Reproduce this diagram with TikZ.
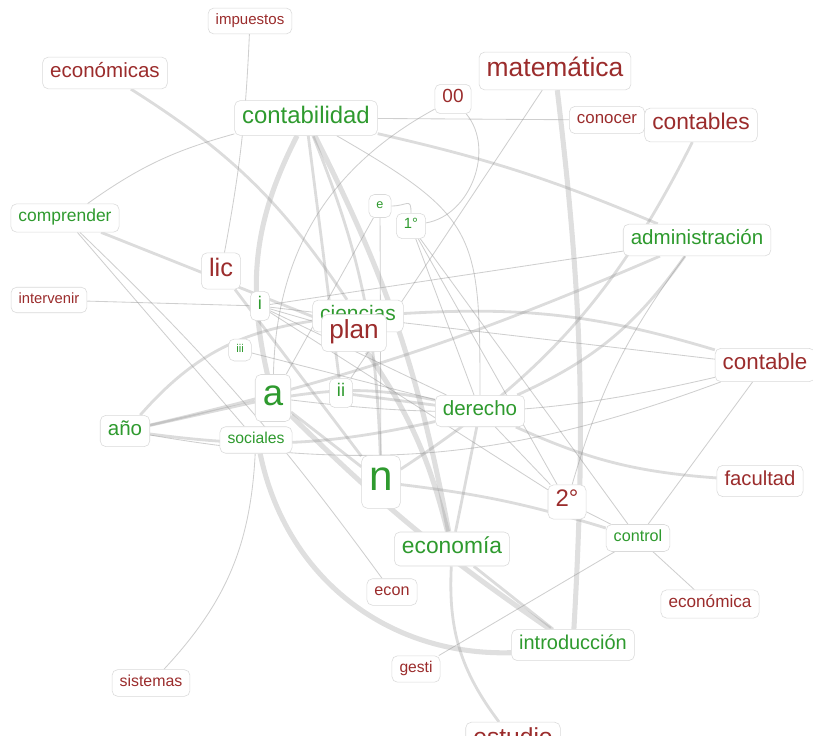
\documentclass[tikz,border=0pt]{standalone}
\usepackage{fontspec}
\setmainfont{Liberation Sans}
\usetikzlibrary{backgrounds}
\definecolor{Pos}{HTML}{2E9A2E}
\definecolor{Neg}{HTML}{9B2C2C}
\definecolor{Frame}{HTML}{DADADA}
\definecolor{Edge}{HTML}{8C8C8C}
\tikzset{
  word/.style={rectangle, rounded corners=4pt, draw=Frame, fill=white,
    inner xsep=0.19cm, inner ysep=0.13cm, execute at begin node=\strut},
  posword/.style={word, text=Pos},
  negword/.style={word, text=Neg},
  sz/.style={font=\fontsize{#1}{#1}\selectfont},
  weak/.style={draw=Edge, draw opacity=0.42, line width=0.6pt},
  mid/.style={draw=Edge, draw opacity=0.3, line width=2pt},
  strong/.style={draw=Edge, draw opacity=0.28, line width=3.6pt}
}

\begin{document}
\begin{tikzpicture}[x=0.025cm, y=-0.025cm]
  \useasboundingbox (0,0) rectangle (813,735);
  \node[negword, sz=10.7] (impuestos) at (250,21) {impuestos};
  \node[negword, sz=14.6] (economicas) at (105,73) {económicas};
  \node[posword, sz=17] (contabilidad) at (306,118) {contabilidad};
  \node[negword, sz=18.8] (matematica) at (555,71) {matemática};
  \node[negword, sz=13.5] (cero) at (453,99) {00};
  \node[negword, sz=16.2] (contables) at (701,125) {contables};
  \node[negword, sz=12] (conocer) at (607,120) {conocer};
  \node[posword, sz=12.4] (comprender) at (65,218) {comprender};
  \node[posword, sz=9] (e) at (380,206) {e};
  \node[posword, sz=10.5] (primero) at (411,226) {1°};
  \node[posword, sz=14.6] (admin) at (697,240) {administración};
  \node[negword, sz=18] (lic) at (221,271) {lic};
  \node[negword, sz=10.5] (intervenir) at (49,300) {intervenir};
  \node[posword, sz=13] (i) at (260,306) {i};
  \node[posword, sz=14.9] (ciencias) at (358,316) {ciencias};
  \node[negword, sz=18.6] (plan) at (354,333) {plan};
  \node[posword, sz=8] (iii) at (240,350) {iii};
  \node[negword, sz=15.9] (contable) at (765,365) {contable};
  \node[posword, sz=26] (a) at (273,398) {a};
  \node[posword, sz=13] (ii) at (341,393) {ii};
  \node[posword, sz=14.6] (derecho) at (480,411) {derecho};
  \node[posword, sz=14.6] (anio) at (125,431) {año};
  \node[posword, sz=11.2] (sociales) at (256,440) {sociales};
  \node[posword, sz=30] (n) at (381,482) {n};
  \node[negword, sz=14.4] (facultad) at (760,481) {facultad};
  \node[negword, sz=17] (segundo) at (567,502) {2°};
  \node[posword, sz=11.5] (control) at (638,538) {control};
  \node[posword, sz=16.2] (economia) at (452,549) {economía};
  \node[negword, sz=11.5] (econ) at (392,592) {econ};
  \node[negword, sz=12.2] (economica) at (710,604) {económica};
  \node[posword, sz=14.2] (intro) at (573,645) {introducción};
  \node[negword, sz=11.1] (gesti) at (416,669) {gesti};
  \node[negword, sz=11.3] (sistemas) at (151,683) {sistemas};
  \node[negword, sz=17.5] (estudio) at (513,740) {estudio};

  \begin{pgfonlayer}{background}
    % upper part
    \draw[weak] (impuestos) to[bend left=4] (lic);
    \draw[mid] (economicas) to[bend left=12] (ciencias);
    \draw[weak] (contabilidad) to[bend right=10] (comprender);
    \draw[weak] (contabilidad) -- (conocer);
    \draw[mid] (contabilidad) to[bend left=5] (admin);
    \draw[strong] (contabilidad) to[bend right=20] (a);
    \draw[mid] (contabilidad) -- (ii);
    \draw[strong] (contabilidad) to[bend left=8] (economia);
    \draw[mid] (contabilidad) to[bend left=10] (n);
    \draw[weak] (contabilidad) to[out=-30, in=90, looseness=1.4] (derecho);
    \draw[weak] (cero) to[bend right=30] (a);
    \draw[weak] (cero) to[bend left=60] (primero);
    \draw[weak] (e) to[out=0, in=90, looseness=2] (primero);
    \draw[weak] (e) -- (n);
    \draw[weak] (e) -- (a);
    \draw[weak] (matematica) -- (ii);
    \draw[strong] (matematica) to[bend left=5] (intro);
    \draw[mid] (contables) to[bend left=15] (n);
    \draw[mid] (admin) to[bend left=5] (anio);
    \draw[mid] (admin) to[bend left=15] (derecho);
    \draw[weak] (admin) to[bend right=10] (segundo);
    \draw[mid] (comprender) -- (plan);
    \draw[weak] (comprender) -- (sociales);
    \draw[weak] (comprender) to[bend left=5] (econ);
    \draw[weak] (intervenir) -- (i);
    \draw[weak] (i) -- (derecho);
    \draw[weak] (i) -- (contable);
    \draw[weak] (i) -- (segundo);
    \draw[weak] (i) -- (admin);
    \draw[weak] (i) -- (plan);
    \draw[mid] (lic) -- (n);
    \draw[weak] (iii) -- (derecho);
    \draw[weak] (primero) -- (derecho);
    \draw[weak] (primero) -- (segundo);
    \draw[weak] (primero) -- (control);
    % right part
    \draw[mid] (contable) to[bend right=10] (ciencias);
    \draw[weak] (contable) to[bend left=10] (a);
    \draw[weak] (contable) -- (control);
    \draw[mid] (derecho) to[bend right=10] (facultad);
    \draw[mid] (derecho) -- (economia);
    \draw[weak] (derecho) -- (segundo);
    \draw[mid] (n) to[bend left=5] (control);
    \draw[weak] (segundo) -- (control);
    \draw[weak] (control) -- (economica);
    \draw[weak] (control) -- (gesti);
    % lower part
    \draw[mid] (economia) to[bend right=20] (estudio);
    \draw[mid] (economia) -- (intro);
    \draw[weak] (sociales) to[bend left=20] (sistemas);
    \draw[strong] (a) to[bend right=5] (intro);
    \draw[strong] (sociales) to[bend right=40] (intro);
    \draw[mid] (anio) -- (a);
    \draw[mid] (anio) to[bend right=10] (derecho);
    \draw[mid] (anio) to[bend left=20] (ciencias);
    \draw[weak] (anio) to[bend right=15] (contable);
    \draw[mid] (a) -- (n);
    \draw[mid] (a) to[bend left=10] (derecho);
    \draw[strong] (plan) to[bend left=10] (economia);
    \draw[mid] (ii) -- (derecho);
  \end{pgfonlayer}
\end{tikzpicture}
\end{document}
